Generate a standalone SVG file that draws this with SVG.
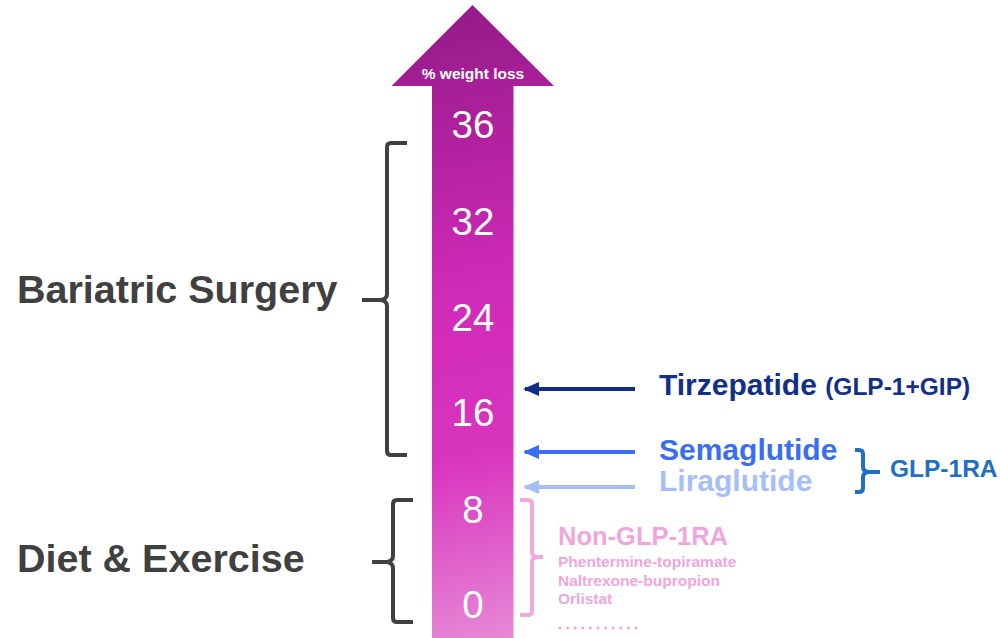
<svg xmlns="http://www.w3.org/2000/svg" width="1000" height="638" viewBox="0 0 1000 638">
  <defs>
    <linearGradient id="arrowGrad" gradientUnits="userSpaceOnUse" x1="400" y1="10" x2="530" y2="638">
      <stop offset="0" stop-color="#931a87"/>
      <stop offset="0.45" stop-color="#d02ab8"/>
      <stop offset="0.7" stop-color="#d934be"/>
      <stop offset="1" stop-color="#e68ad6"/>
    </linearGradient>
    <marker id="headNavy" viewBox="0 0 16 14" refX="14" refY="7" markerWidth="16" markerHeight="14" markerUnits="userSpaceOnUse" orient="auto">
      <path d="M16,7 L0,0 L0,14 Z" fill="#0f2e86"/>
    </marker>
    <marker id="headBlue" viewBox="0 0 16 14" refX="14" refY="7" markerWidth="16" markerHeight="14" markerUnits="userSpaceOnUse" orient="auto">
      <path d="M16,7 L0,0 L0,14 Z" fill="#3a6ef2"/>
    </marker>
    <marker id="headLight" viewBox="0 0 16 14" refX="14" refY="7" markerWidth="16" markerHeight="14" markerUnits="userSpaceOnUse" orient="auto">
      <path d="M16,7 L0,0 L0,14 Z" fill="#a5bef8"/>
    </marker>
    <style>
      .sans { font-family: "Liberation Sans", Arial, sans-serif; }
      .num { font-family: "Liberation Sans", Arial, sans-serif; font-size: 38.5px; fill: #ffffff; text-anchor: middle; }
      .big { font-family: "Liberation Sans", Arial, sans-serif; font-weight: bold; font-size: 39.5px; fill: #404040; }
      .drug { font-family: "Liberation Sans", Arial, sans-serif; font-weight: bold; font-size: 30px; }
      .brace { fill: none; stroke-width: 4; stroke-linecap: butt; stroke-linejoin: round; }
      .conn { stroke-width: 4; fill: none; }
      .pink { fill: #eea6dc; font-family: "Liberation Sans", Arial, sans-serif; font-weight: bold; }
    </style>
  </defs>

  <rect x="0" y="0" width="1000" height="638" fill="#ffffff"/>

  <g id="scale-arrow">
    <path d="M472.5,5 L554,86 L513.5,86 L513.5,638 L432,638 L432,86 L391.5,86 Z" fill="url(#arrowGrad)"/>
    <text x="473" y="79" class="sans" font-weight="bold" font-size="15.5" fill="#ffffff" text-anchor="middle">% weight loss</text>
    <text x="473" y="138" class="num">36</text>
    <text x="473" y="235" class="num">32</text>
    <text x="473" y="331" class="num">24</text>
    <text x="473" y="426" class="num">16</text>
    <text x="473" y="523" class="num">8</text>
    <text x="473" y="618" class="num">0</text>
  </g>

  <g id="bariatric-surgery">
    <path class="brace" stroke="#404040" d="M407,143 L391,143 Q387,143 387,147 L387,294 Q387,299 381,300 L362,300 M381,300 Q387,301 387,306 L387,451 Q387,455 391,455 L407,455"/>
    <text x="17" y="303" class="big">Bariatric Surgery</text>
  </g>

  <g id="diet-exercise">
    <path class="brace" stroke="#404040" d="M413,500 L397,500 Q393,500 393,504 L393,556 Q393,561 387,562 L372,562 M387,562 Q393,563 393,568 L393,618 Q393,622 397,622 L413,622"/>
    <text x="17" y="572" class="big">Diet &amp; Exercise</text>
  </g>

  <g id="connectors">
    <line class="conn" x1="635" y1="389" x2="525" y2="389" stroke="#0f2e86" marker-end="url(#headNavy)"/>
    <line class="conn" x1="635" y1="452" x2="525" y2="452" stroke="#3a6ef2" marker-end="url(#headBlue)"/>
    <line class="conn" x1="635" y1="487" x2="525" y2="487" stroke="#a5bef8" marker-end="url(#headLight)"/>
  </g>

  <g id="tirzepatide">
    <text x="659" y="395" class="drug" fill="#132f86">Tirzepatide <tspan font-size="24.5">(GLP-1+GIP)</tspan></text>
  </g>

  <g id="semaglutide">
    <text x="659" y="460" class="drug" fill="#3a6ef2">Semaglutide</text>
  </g>

  <g id="liraglutide">
    <text x="659" y="491" class="drug" fill="#a7bff9">Liraglutide</text>
  </g>

  <g id="glp1ra">
    <path class="brace" stroke="#1f6fc3" d="M855,450 L859,450 Q863,450 863,454 L863,467 Q863,471 868,472 L880,472 M868,472 Q863,473 863,477 L863,488 Q863,492 859,492 L855,492"/>
    <text x="890" y="477" class="sans" font-weight="bold" font-size="24.5" fill="#1f6fc3">GLP-1RA</text>
  </g>

  <g id="non-glp1ra">
    <path class="brace" stroke="#f0a8de" stroke-width="3.5" d="M520,500 L528,500 Q532,500 532,504 L532,552 Q532,556 537,557 L543,557 M537,557 Q532,558 532,562 L532,611 Q532,615 528,615 L520,615"/>
    <text x="558" y="545" class="pink" font-size="25.5">Non-GLP-1RA</text>
    <text x="558" y="567" class="pink" font-size="15.5">Phentermine-topiramate</text>
    <text x="558" y="586" class="pink" font-size="15.5">Naltrexone-bupropion</text>
    <text x="558" y="604" class="pink" font-size="15.5">Orlistat</text>
    <line x1="560" y1="628" x2="636" y2="628" stroke="#eea6dc" stroke-width="3" stroke-linecap="round" stroke-dasharray="0 7.6"/>
  </g>
</svg>
